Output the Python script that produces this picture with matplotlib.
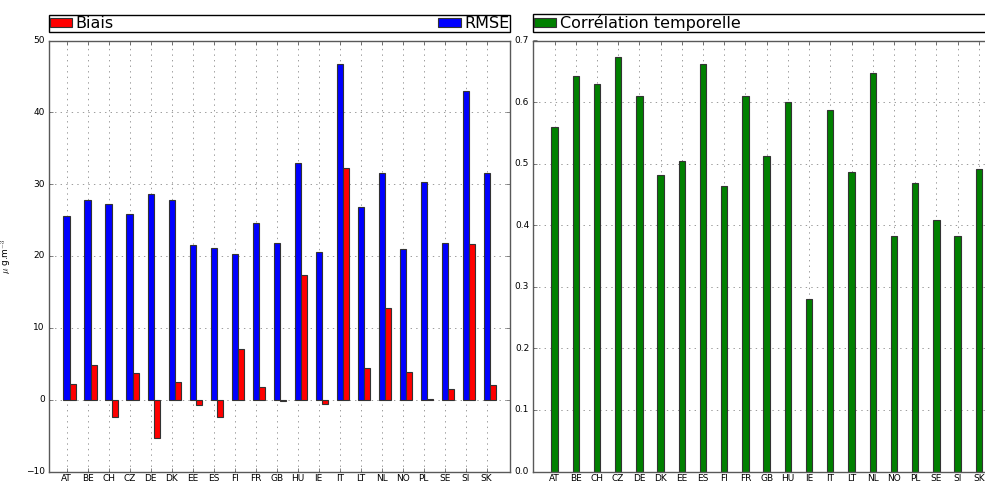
import matplotlib
matplotlib.use("Agg")
import matplotlib.pyplot as plt
import numpy as np

plt.style.use("classic")

countries = ["AT", "BE", "CH", "CZ", "DE", "DK", "EE", "ES", "FI", "FR", "GB",
             "HU", "IE", "IT", "LT", "NL", "NO", "PL", "SE", "SI", "SK"]
rmse = [25.6, 27.8, 27.2, 25.9, 28.7, 27.8, 21.5, 21.1, 20.3, 24.6, 21.8,
        32.9, 20.5, 46.7, 26.8, 31.5, 21.0, 30.3, 21.8, 43.0, 31.6]
biais = [2.2, 4.8, -2.4, 3.7, -5.3, 2.5, -0.8, -2.4, 7.0, 1.7, -0.15,
         17.3, -0.55, 32.3, 4.4, 12.7, 3.9, 0.05, 1.5, 21.7, 2.0]
correlation = [0.559, 0.642, 0.629, 0.674, 0.610, 0.482, 0.505, 0.662, 0.464,
               0.610, 0.512, 0.600, 0.280, 0.587, 0.487, 0.647, 0.383, 0.468,
               0.409, 0.382, 0.491]

x = np.arange(len(countries))
w = 0.3

fig = plt.figure(figsize=(9.85, 4.84), dpi=100, facecolor="white")
ax1 = fig.add_axes([49 / 985, 12.5 / 484, 461 / 985, 431 / 484])
ax2 = fig.add_axes([533.3 / 985, 12.5 / 484, 466.7 / 985, 431 / 484])

ax1.bar(x, rmse, w, align="center", color="blue", edgecolor="0.2", lw=0.8,
        label="RMSE", zorder=2)
ax1.bar(x + w, biais, w, align="center", color="red", edgecolor="0.2", lw=0.8,
        label="Biais", zorder=2)
ax1.set_xlim(-0.84, 21.11)
ax1.set_ylim(-10, 50)
ax1.set_ylabel(r"$\mu$ g.m$^{-3}$", fontsize=6.5)
ax1.yaxis.set_label_coords(-0.075, 0.5)

ax2.bar(x, correlation, w, align="center", color="green", edgecolor="0.2",
        lw=0.8, label="Corrélation temporelle", zorder=2)
ax2.set_xlim(-1, 21)
ax2.set_ylim(0, 0.7)

for ax in (ax1, ax2):
    ax.set_xticks(x)
    ax.set_xticklabels(countries)
    ax.tick_params(labelsize=6.5, length=3, color="0.3")
    ax.tick_params(axis="x", pad=2)
    ax.tick_params(axis="y", pad=3)
    ax.grid(True, color="0.55", linestyle=":", linewidth=0.6, zorder=0)
    ax.set_axisbelow(True)
    for s in ax.spines.values():
        s.set_color("0.35")

h, l = ax1.get_legend_handles_labels()
ax1.legend(h[::-1], l[::-1], bbox_to_anchor=(0., 1.02, 1., .102), loc=3,
           ncol=2, mode="expand", borderaxespad=0, fontsize=11.5,
           handlelength=1.4, handleheight=0.45, handletextpad=0.2,
           borderpad=0.05, fancybox=False)
ax2.legend(bbox_to_anchor=(0., 1.02, 1., .102), loc=3, ncol=1, mode="expand",
           borderaxespad=0, fontsize=11.5, handlelength=1.4, handleheight=0.45,
           handletextpad=0.2, borderpad=0.05, fancybox=False)

fig.savefig("out.png", dpi=100, facecolor="white")
